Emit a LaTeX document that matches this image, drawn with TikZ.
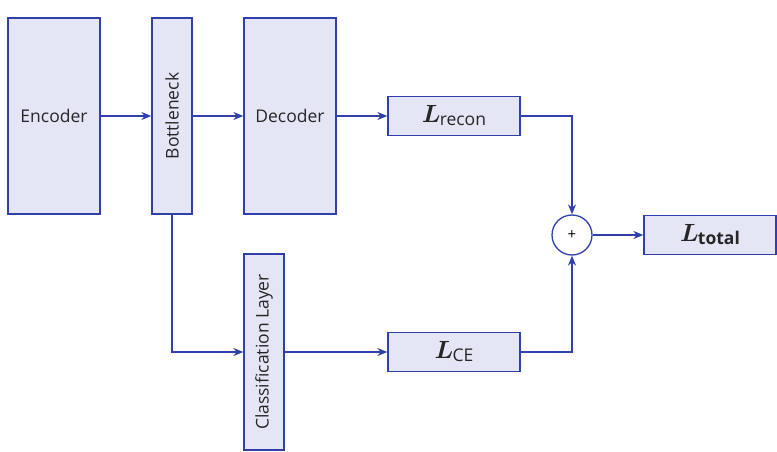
\documentclass[tikz,border=0pt]{standalone}
\usepackage{fontspec}
\usepackage{amsmath,bm}
\setmainfont{Open Sans}
\usetikzlibrary{arrows.meta}
\definecolor{boxfill}{RGB}{228,230,246}
\definecolor{boxline}{RGB}{48,64,168}
\newcommand{\bigL}{{\fontsize{27}{30}\selectfont$\bm{L}$}}
\tikzset{
  blk/.style={draw=boxline,fill=boxfill,line width=1.3pt,inner sep=0pt,minimum width=#1},
  conn/.style={draw=boxline,line width=1.3pt,-{Stealth[length=10pt,width=8pt]}},
  lbl/.style={font=\fontsize{17.5}{20}\selectfont,text=black!85}
}
\begin{document}
\begin{tikzpicture}[x=1pt,y=-1pt]
\useasboundingbox (0,0) rectangle (777,452);
\node[blk=92pt,minimum height=196pt,lbl] (enc) at (54,116) {Encoder};
\node[blk=196pt,minimum height=40pt,lbl,rotate=90] (bot) at (172,116) {Bottleneck};
\node[blk=92pt,minimum height=196pt,lbl] (dec) at (290,116) {Decoder};
\node[blk=132pt,minimum height=39pt,lbl] (rec) at (454,116) {\bigL\kern-1pt\raisebox{-3pt}{recon}};
\node[circle,draw=boxline,fill=white,line width=1.3pt,minimum size=40pt,inner sep=0pt,font=\fontsize{15}{16}\selectfont] (sum) at (572,235) {+};
\node[blk=132pt,minimum height=39pt,lbl] (tot) at (710,235) {\bigL\kern-1pt\raisebox{-3pt}{\bfseries total}};
\node[blk=196pt,minimum height=40pt,lbl,rotate=90] (cls) at (264,352) {Classification Layer};
\node[blk=132pt,minimum height=39pt,lbl] (ce) at (454,352) {\bigL\kern-1pt\raisebox{-3pt}{CE}};
\draw[conn] (enc.east) -- (bot.north);
\draw[conn] (bot.south) -- (dec.west);
\draw[conn] (dec.east) -- (rec.west);
\draw[conn] (rec.east) -| (sum.north);
\draw[conn] (ce.east) -| (sum.south);
\draw[conn] (sum.east) -- (tot.west);
\draw[conn] (bot.west) |- (cls.north);
\draw[conn] (cls.south) -- (ce.west);
\end{tikzpicture}
\end{document}
